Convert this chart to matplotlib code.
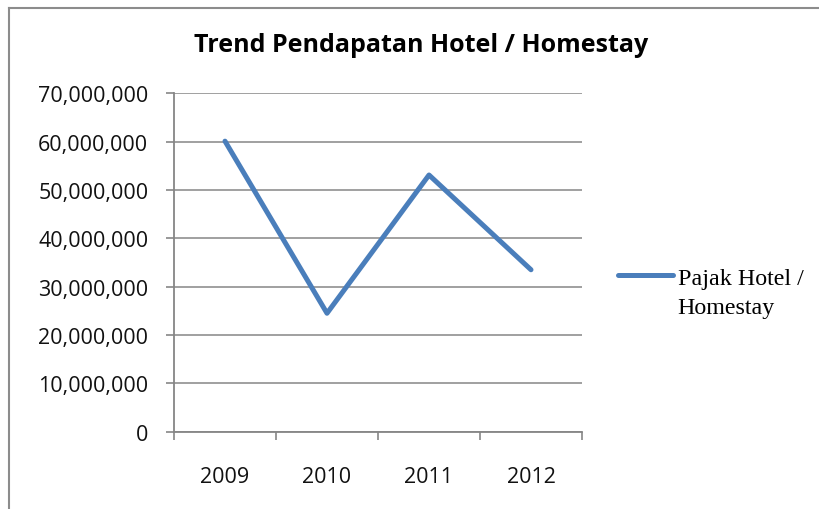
import matplotlib
matplotlib.use("Agg")
import matplotlib.pyplot as plt
from matplotlib.ticker import FuncFormatter, MultipleLocator
from matplotlib.lines import Line2D
from matplotlib.legend_handler import HandlerLine2D

years = ["2009", "2010", "2011", "2012"]
pajak_hotel = [60100000, 24500000, 53100000, 33500000]
series_name = "Pajak Hotel /\nHomestay"
title = "Trend Pendapatan Hotel / Homestay"

W, H = 820, 510
fig = plt.figure(figsize=(W / 100, H / 100), dpi=100)
fig.patch.set_facecolor("white")

# chart border (left and top edges visible)
border_kw = dict(transform=fig.transFigure, color="#8c8c8c", linewidth=1.5)
fig.add_artist(Line2D([9.5 / W, 9.5 / W], [0, 1 - 8.5 / H], **border_kw))
fig.add_artist(Line2D([9.5 / W, 1], [1 - 8.5 / H, 1 - 8.5 / H], **border_kw))

ax = fig.add_axes([174 / W, 1 - 432.7 / H, (582 - 174) / W, (432.7 - 94.3) / H])
x = list(range(len(years)))
ax.plot(x, pajak_hotel, color="#4A7EBB", linewidth=3.6, solid_capstyle="round",
        solid_joinstyle="round", label=series_name, zorder=3)

ax.set_xlim(-0.5, len(years) - 0.5)
ax.set_ylim(0, 70000000)
ax.yaxis.set_major_locator(MultipleLocator(10000000))
ax.yaxis.set_major_formatter(FuncFormatter(lambda v, p: f"{int(v):,}"))
ax.set_xticks([i + 0.5 for i in range(-1, len(years))], minor=False)
ax.set_xticklabels([])
ax.set_xticks(x, minor=True)
ax.set_xticklabels(years, minor=True)

ax.grid(axis="y", color="#868686", linewidth=1.1)
ax.set_axisbelow(True)
for s in ["top", "right"]:
    ax.spines[s].set_visible(False)
for s in ["left", "bottom"]:
    ax.spines[s].set_color("#868686")
    ax.spines[s].set_linewidth(1.3)

ax.tick_params(axis="y", which="major", length=5.5, width=1.2, color="#868686",
               pad=13, labelsize=15.5, labelcolor="#111111")
ax.tick_params(axis="x", which="major", length=5.5, width=1.2, color="#868686")
ax.tick_params(axis="x", which="minor", length=0, pad=25, labelsize=15.5,
               labelcolor="#111111")
for lab in ax.get_yticklabels() + ax.get_xticklabels(minor=True):
    lab.set_family("Open Sans")

fig.text(421 / W, 1 - 46 / H, title, ha="center", va="center",
         fontsize=18, fontweight="bold", family="Open Sans", color="black")


class FirstLineHandler(HandlerLine2D):
    def create_artists(self, legend, orig_handle, xdescent, ydescent, width,
                       height, fontsize, trans):
        arts = super().create_artists(legend, orig_handle, xdescent, ydescent,
                                      width, height, fontsize, trans)
        for a in arts:
            a.set_ydata([y + 0.72 * fontsize for y in a.get_ydata()])
        return arts


leg = ax.legend(loc="center left", bbox_to_anchor=(608 / W, 1 - 294 / H),
                bbox_transform=fig.transFigure, frameon=False,
                prop=dict(family="Liberation Serif", size=17.3),
                handlelength=2.3, handletextpad=0.2, borderaxespad=0,
                handler_map={Line2D: FirstLineHandler()})
for t in leg.get_texts():
    t.set_linespacing(1.5)

fig.savefig("out.png", dpi=100, facecolor="white")
